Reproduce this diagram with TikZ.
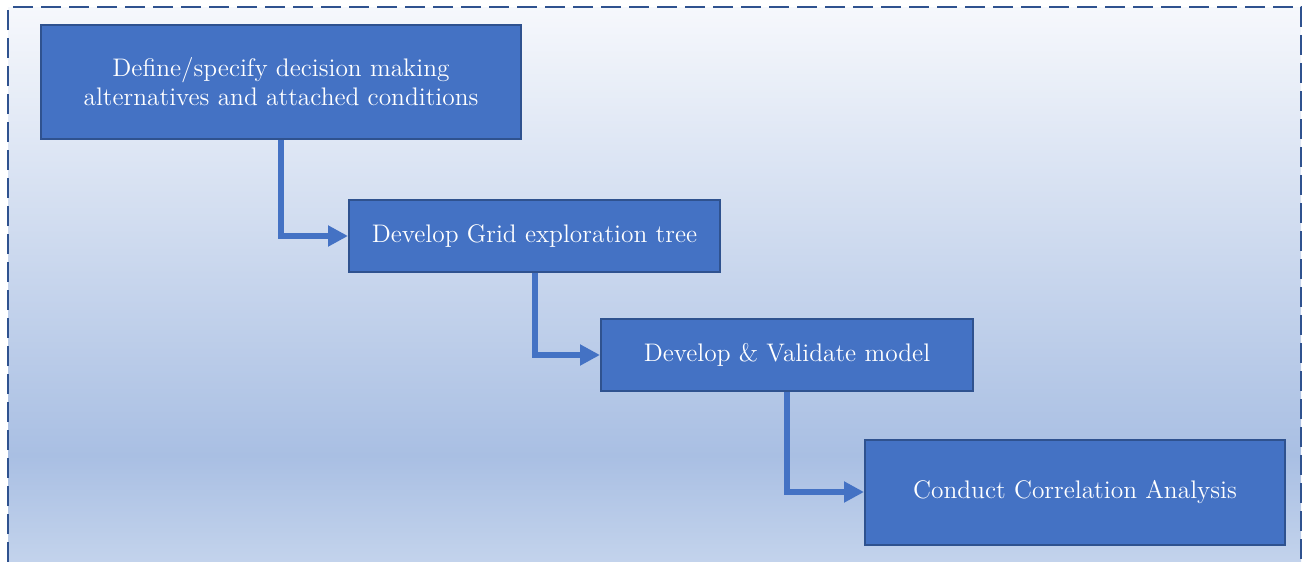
\documentclass[tikz,border=0pt]{standalone}
\usetikzlibrary{arrows.meta}
\definecolor{boxblue}{HTML}{4472C4}
\definecolor{boxline}{HTML}{2F528F}
\definecolor{bgtop}{HTML}{F6F8FC}
\definecolor{bgmid}{HTML}{A9BFE3}
\definecolor{bgbot}{HTML}{C3D3EC}
\begin{document}
\begin{tikzpicture}[x=0.5pt,y=-0.5pt,
  stage/.style={draw=boxline,line width=1pt,fill=boxblue,text=white,align=center,font=\fontsize{12.7}{14.5}\selectfont,inner sep=0pt},
  flow/.style={draw=boxblue,line width=3pt,-{Triangle[length=10pt,width=10pt]}}]
\useasboundingbox (0,0) rectangle (1302,562);
% background
\fill[top color=bgtop,bottom color=bgmid] (8,7) rectangle (1301,455);
\fill[top color=bgmid,bottom color=bgbot] (8,455) rectangle (1301,562);
\draw[boxline,line width=1.25pt,dash pattern=on 10pt off 4pt] (8,562) -- (8,7) -- (1301,7) -- (1301,562);
% stages
\node[stage,minimum width=240pt,minimum height=57pt] (d1) at (281,82) {Define/specify decision making\\alternatives and attached conditions};
\node[stage,minimum width=185.5pt,minimum height=36pt] (d2) at (534.5,236) {Develop Grid exploration tree};
\node[stage,minimum width=186pt,minimum height=36pt] (d3) at (787,355) {Develop \& Validate model};
\node[stage,minimum width=210pt,minimum height=52.5pt] (d4) at (1075,492) {Conduct Correlation Analysis};
% arrows
\draw[flow] (d1.south) |- (d2.west);
\draw[flow] (d2.south) |- (d3.west);
\draw[flow] (d3.south) |- (d4.west);
\end{tikzpicture}
\end{document}
